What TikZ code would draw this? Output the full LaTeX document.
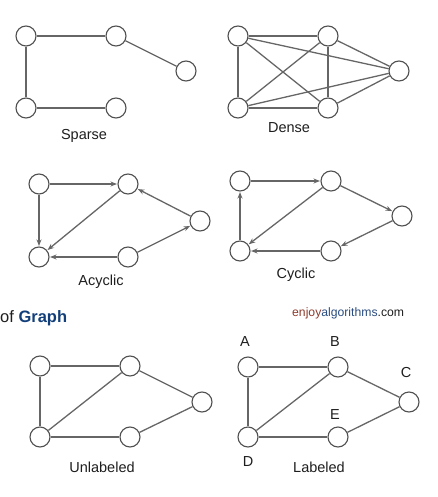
\documentclass[tikz,border=0pt]{standalone}
\usepackage{fontspec}
\setmainfont{Liberation Sans}
\usetikzlibrary{arrows.meta}
\definecolor{edgegray}{HTML}{666666}
\definecolor{nodegray}{HTML}{505050}
\definecolor{txt}{HTML}{1E1E1E}
\definecolor{graphblue}{HTML}{123F7A}
\definecolor{enjoyred}{HTML}{8E3B2C}
\definecolor{algoblue}{HTML}{2A4C80}
\begin{document}
\begin{tikzpicture}[x=1pt,y=-1pt,
  vtx/.style={circle,draw=nodegray,line width=1.1pt,fill=white,minimum size=20pt,inner sep=0pt},
  edge/.style={draw=edgegray,line width=1.3pt},
  arc/.style={edge,-{Stealth[length=6.5pt,width=5pt]},shorten >=0.5pt},
  lbl/.style={text=txt,font=\fontsize{14.5}{16}\selectfont},
  letter/.style={text=txt,font=\fontsize{14.5}{16}\selectfont}]
\useasboundingbox (0,0) rectangle (437,497);
% Sparse
\node[vtx] (s1) at (26,36) {};
\node[vtx] (s2) at (116,36) {};
\node[vtx] (s3) at (186,71) {};
\node[vtx] (s4) at (26,108) {};
\node[vtx] (s5) at (116,108) {};
\draw[edge] (s1) -- (s2);
\draw[edge] (s2) -- (s3);
\draw[edge] (s1) -- (s4);
\draw[edge] (s4) -- (s5);
\node[lbl] (sl) at (84,136) {Sparse};
% Dense
\node[vtx] (d1) at (238,36) {};
\node[vtx] (d2) at (328,36) {};
\node[vtx] (d3) at (399,71) {};
\node[vtx] (d4) at (238,108) {};
\node[vtx] (d5) at (328,108) {};
\draw[edge] (d1) -- (d2);
\draw[edge] (d1) -- (d4);
\draw[edge] (d1) -- (d5);
\draw[edge] (d1) -- (d3);
\draw[edge] (d2) -- (d4);
\draw[edge] (d2) -- (d5);
\draw[edge] (d2) -- (d3);
\draw[edge] (d4) -- (d5);
\draw[edge] (d4) -- (d3);
\draw[edge] (d5) -- (d3);
\node[lbl] (dl) at (289,128) {Dense};
% Acyclic
\node[vtx] (a1) at (39,184) {};
\node[vtx] (a2) at (128,184) {};
\node[vtx] (a3) at (200,221) {};
\node[vtx] (a4) at (39,257) {};
\node[vtx] (a5) at (128,257) {};
\draw[arc] (a1) -- (a2);
\draw[arc] (a1) -- (a4);
\draw[arc] (a2) -- (a4);
\draw[arc] (a3) -- (a2);
\draw[arc] (a5) -- (a4);
\draw[arc] (a5) -- (a3);
\node[lbl] (al) at (101,282) {Acyclic};
% Cyclic
\node[vtx] (c1) at (240,181) {};
\node[vtx] (c2) at (331,181) {};
\node[vtx] (c3) at (402,216) {};
\node[vtx] (c4) at (240,251) {};
\node[vtx] (c5) at (331,251) {};
\draw[arc] (c1) -- (c2);
\draw[arc] (c2) -- (c3);
\draw[arc] (c3) -- (c5);
\draw[arc] (c5) -- (c4);
\draw[arc] (c4) -- (c1);
\draw[arc] (c2) -- (c4);
\node[lbl] (cl) at (296,275) {Cyclic};
% Title and logo
\node[anchor=base west,inner sep=0pt,font=\fontsize{16.5}{19}\selectfont] (title) at (0,322) {\textcolor{txt}{of} \textcolor{graphblue}{\bfseries Graph}};
\node[anchor=base west,inner sep=0pt,font=\fontsize{12.2}{14}\selectfont] (logo) at (292,316) {\textcolor{enjoyred}{enjoy}\textcolor{algoblue}{algorithms}\textcolor{txt}{.com}};
% Unlabeled
\node[vtx] (u1) at (40,366) {};
\node[vtx] (u2) at (130,366) {};
\node[vtx] (u3) at (202,402) {};
\node[vtx] (u4) at (40,437) {};
\node[vtx] (u5) at (130,437) {};
\draw[edge] (u1) -- (u2);
\draw[edge] (u1) -- (u4);
\draw[edge] (u4) -- (u2);
\draw[edge] (u2) -- (u3);
\draw[edge] (u4) -- (u5);
\draw[edge] (u5) -- (u3);
\node[lbl] (ul) at (102,467) {Unlabeled};
% Labeled
\node[vtx] (A) at (248,367) {};
\node[vtx] (B) at (338,367) {};
\node[vtx] (C) at (409,402) {};
\node[vtx] (D) at (248,437) {};
\node[vtx] (E) at (338,437) {};
\draw[edge] (A) -- (B);
\draw[edge] (A) -- (D);
\draw[edge] (D) -- (B);
\draw[edge] (B) -- (C);
\draw[edge] (D) -- (E);
\draw[edge] (E) -- (C);
\node[letter] (At) at (245,342) {A};
\node[letter] (Bt) at (335,342) {B};
\node[letter] (Ct) at (406,373) {C};
\node[letter] (Et) at (335,415) {E};
\node[letter] (Dt) at (248,462) {D};
\node[lbl] (ll) at (319,467) {Labeled};
\end{tikzpicture}
\end{document}
